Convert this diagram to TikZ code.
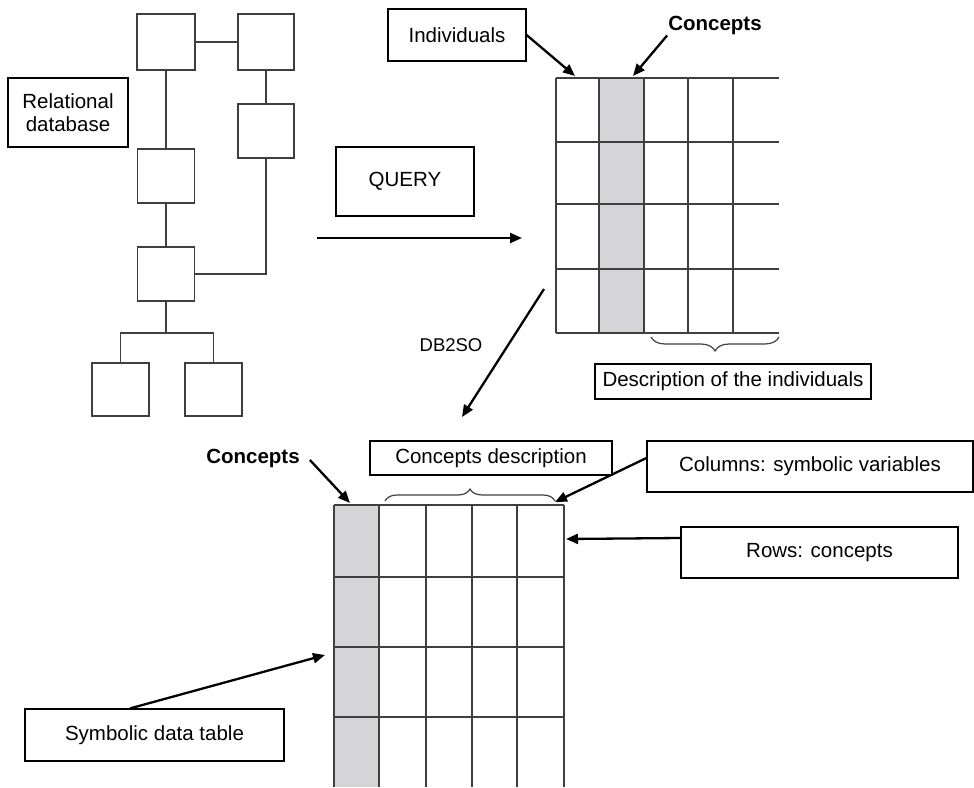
\documentclass[tikz,border=0pt]{standalone}
\usepackage{fontspec}
\setmainfont{Liberation Sans}
\usetikzlibrary{arrows.meta,decorations.pathreplacing,calc}
\definecolor{gridline}{HTML}{3F3F3F}
\definecolor{cellgray}{HTML}{D5D5D7}
\begin{document}
\begin{tikzpicture}[x=1pt,y=-1pt,
  lbl/.style={draw=black,line width=1.2pt,inner sep=0pt,align=center,
    font=\fontsize{20.5}{22.5}\selectfont},
  tbl/.style={draw=gridline,line width=1.5pt,inner sep=0pt},
  link/.style={draw=gridline,line width=1.5pt},
  pointer/.style={line width=2.3pt,-{Triangle[length=12pt,width=10pt]}},
  grid/.style={draw=gridline,line width=1.4pt},
  bracestyle/.style={draw=gridline,line width=1.2pt,decorate}
]
\useasboundingbox (0,0) rectangle (974,787);

% ---- relational database schema ----
\node[tbl,minimum width=58pt,minimum height=56pt] (ta) at (166,42) {};
\node[tbl,minimum width=56pt,minimum height=56pt] (tb) at (266,42) {};
\node[tbl,minimum width=56pt,minimum height=54pt] (tc) at (266,131) {};
\node[tbl,minimum width=57pt,minimum height=54pt] (td) at (166,176) {};
\node[tbl,minimum width=57pt,minimum height=54pt] (te) at (166,274) {};
\node[tbl,minimum width=57pt,minimum height=53pt] (tf) at (120.5,389.5) {};
\node[tbl,minimum width=57pt,minimum height=53pt] (tg) at (213.5,389.5) {};
\coordinate (split) at (166,333);

\draw[link] (ta.east) -- (tb.west);
\draw[link] (ta.south) -- (td.north);
\draw[link] (tb.south) -- (tc.north);
\draw[link] (tc.south) |- (te.east);
\draw[link] (td.south) -- (te.north);
\draw[link] (te.south) -- (split);
\draw[link] (split) -| (tf.north);
\draw[link] (split) -| (tg.north);

\node[lbl,minimum width=120pt,minimum height=69pt] (reldb) at (68,112.5)
  {Relational\\database};

% ---- query ----
\node[lbl,minimum width=138pt,minimum height=69pt] (query) at (405,181.5) {QUERY};
\coordinate (qfrom) at (317,238);
\coordinate (qto) at (522,238);
\draw[pointer] (qfrom) -- (qto);

% ---- table of individuals ----
\fill[cellgray] (599,78) rectangle (644,333);
\foreach \x in {556,599,644,688,733}
  \draw[grid] (\x,78) -- (\x,333);
\foreach \y in {78,142,204,269,333}
  \draw[grid] (556,\y) -- (779,\y);
\draw[bracestyle,decoration={brace,amplitude=14pt,mirror}] (651,337) -- (779,337);

\node[lbl,minimum width=138pt,minimum height=52pt] (indiv) at (457,35) {Individuals};
\node[inner sep=1pt,font=\fontsize{20.5}{22.5}\selectfont\bfseries] (ctop) at (715,25) {Concepts};
\coordinate (indivtip) at (575,76);
\coordinate (ctoptip) at (633,76);
\draw[pointer] (indiv.east) -- (indivtip);
\draw[pointer] (ctop.south west) -- (ctoptip);

\node[lbl,minimum width=276pt,minimum height=35pt] (descr) at (733,381.5)
  {Description of the individuals};

% ---- DB2SO ----
\node[inner sep=0pt,font=\fontsize{18.5}{20}\selectfont] (dbso) at (451,345) {DB2SO};
\coordinate (sofrom) at (544,289);
\coordinate (soto) at (462,417);
\draw[pointer] (sofrom) -- (soto);

% ---- symbolic data table ----
\fill[cellgray] (334,505) rectangle (379,787);
\foreach \x in {334,379,426,472,517,564}
  \draw[grid] (\x,505) -- (\x,787);
\foreach \y in {505,577,647,717}
  \draw[grid] (334,\y) -- (564,\y);
\draw[bracestyle,decoration={brace,amplitude=12pt}] (385,501) -- (555,501);

\node[lbl,minimum width=242pt,minimum height=34pt] (cdesc) at (491,458) {Concepts description};
\node[inner sep=1pt,font=\fontsize{20.5}{22.5}\selectfont\bfseries] (cbot) at (253,458) {Concepts};
\node[lbl,minimum width=326pt,minimum height=51pt] (cols) at (810,466.5) {Columns: symbolic variables};
\node[lbl,minimum width=277pt,minimum height=51pt] (rows) at (819.5,552.5) {Rows: concepts};
\node[lbl,minimum width=259pt,minimum height=52pt] (symb) at (154.5,735) {Symbolic data table};

\coordinate (cbottip) at (350,503);
\coordinate (colstip) at (555,502);
\coordinate (rowstip) at (566,539);
\coordinate (symbtip) at (325,655);
\draw[pointer] ($(cbot.east)+(9,2)$) -- (cbottip);
\draw[pointer] ($(cols.west)+(0,-8.5)$) -- (colstip);
\draw[pointer] ($(rows.west)+(0,-14.5)$) -- (rowstip);
\draw[pointer] ($(symb.north)+(-24.5,0)$) -- (symbtip);
\end{tikzpicture}
\end{document}
